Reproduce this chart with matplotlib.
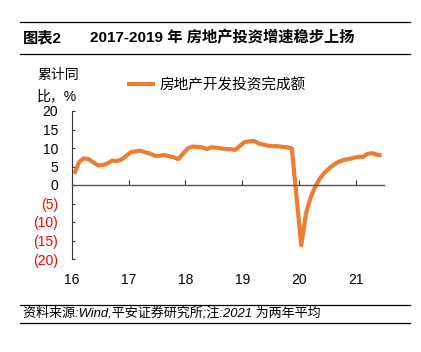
import matplotlib.pyplot as plt
from matplotlib.lines import Line2D
import numpy as np

plt.rcParams['font.family'] = ['Liberation Sans', 'Noto Sans CJK SC']

# 房地产开发投资完成额 累计同比 (%), 每年 2-12 月; 2021 为两年平均
years = [16, 17, 18, 19, 20, 21]
values = {
    16: [3.0, 6.2, 7.2, 7.0, 6.1, 5.3, 5.4, 5.8, 6.6, 6.5, 6.9],
    17: [8.9, 9.1, 9.3, 8.8, 8.5, 7.9, 7.9, 8.1, 7.8, 7.5, 7.0],
    18: [9.9, 10.4, 10.3, 10.2, 9.7, 10.2, 10.1, 9.9, 9.7, 9.7, 9.5],
    19: [11.6, 11.8, 11.9, 11.2, 10.9, 10.6, 10.5, 10.5, 10.3, 10.2, 9.9],
    20: [-16.3, -7.7, -3.3, -0.3, 1.9, 3.4, 4.6, 5.6, 6.3, 6.8, 7.0],
    21: [7.6, 7.6, 8.4, 8.6, 8.2, 8.0],
}
series_name = '房地产开发投资完成额'
yticks = [20, 15, 10, 5, 0, -5, -10, -15, -20]

x, y = [], []
for yr in years:
    for i, v in enumerate(values[yr]):
        month = i + 2
        x.append(yr + (month - 1.5) / 12)
        y.append(v)

fig = plt.figure(figsize=(4.21, 3.52), dpi=100)
ax = fig.add_axes([72 / 421, 1 - 259 / 352, (384 - 72) / 421, (259 - 111) / 352])

line, = ax.plot(x, y, color='#ED7D31', lw=3.0, solid_capstyle='butt', solid_joinstyle='round')

ax.set_xlim(16, 21.5)
ax.set_ylim(-20, 20)
ax.set_xticks(years)
ax.set_xticklabels([str(v) for v in years])
ax.set_yticks(yticks)
ax.set_yticklabels([str(v) if v >= 0 else '(%d)' % -v for v in yticks])
for lab, v in zip(ax.get_yticklabels(), yticks):
    if v < 0:
        lab.set_color('#FF0000')

for s in ['top', 'right']:
    ax.spines[s].set_visible(False)
ax.spines['bottom'].set_position(('data', 0))
ax.spines['bottom'].set_color('#555555')
ax.spines['bottom'].set_linewidth(1.0)
ax.spines['left'].set_color('#333333')
ax.spines['left'].set_linewidth(0.8)
ax.tick_params(axis='x', direction='in', length=3.4, width=0.8, color='#333333',
               pad=63, labelsize=10)
ax.tick_params(axis='y', direction='in', length=2, width=0.8, color='#333333',
               pad=10, labelsize=10)

# legend
fig.legend(handles=[line], labels=[series_name], loc='center left',
           bbox_to_anchor=(127 / 421, 1 - 85 / 352), frameon=False,
           borderpad=0, borderaxespad=0, handlelength=1.9, handletextpad=0.35,
           fontsize=10.5)

# y axis unit label
fig.text(37 / 421, 1 - 75 / 352, '累计同', fontsize=10, ha='left', va='center')
fig.text(37 / 421, 1 - 96 / 352, '比，%', fontsize=10, ha='left', va='center')

# header
for yy in [22, 54]:
    fig.add_artist(Line2D([20 / 421, 410 / 421], [1 - yy / 352] * 2, color='black', lw=0.9))
fig.text(23 / 421, 1 - 38 / 352, '图表2', fontsize=11, weight='bold', ha='left', va='center')
fig.text(90 / 421, 1 - 38 / 352, '2017-2019 年 房地产投资增速稳步上扬', fontsize=11,
         weight='bold', ha='left', va='center')

# footer
for yy in [305, 322.5]:
    fig.add_artist(Line2D([20 / 421, 410 / 421], [1 - yy / 352] * 2, color='black', lw=0.9))
fig.text(23 / 421, 1 - 313.5 / 352, '资料来源:Wind,平安证券研究所;注:2021 为两年平均',
         fontsize=9.4, style='italic', ha='left', va='center')

fig.savefig('out.png', dpi=100)
